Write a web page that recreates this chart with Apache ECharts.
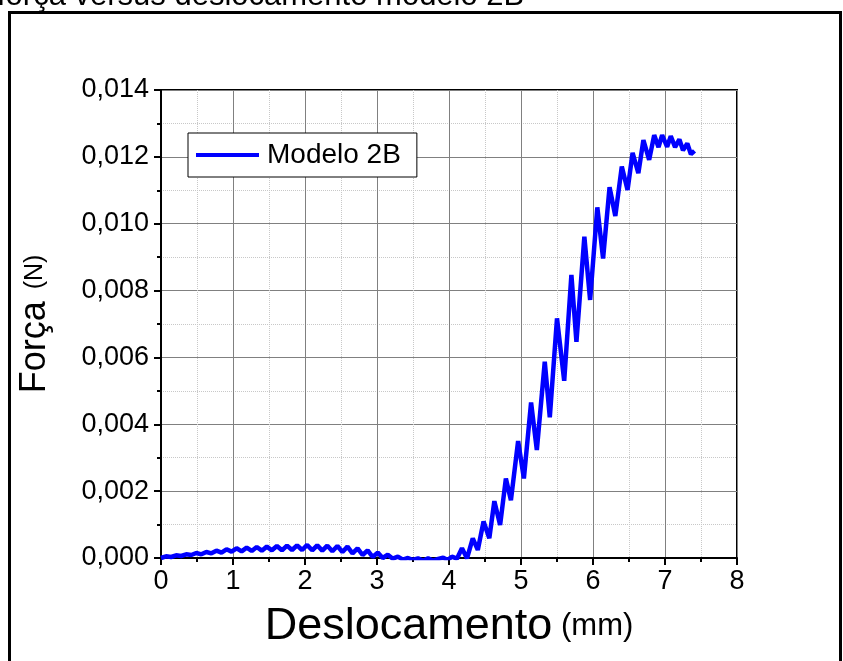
<!DOCTYPE html>
<html>
<head>
<meta charset="utf-8">
<title>força versus deslocamento modelo 2B</title>
<script src="https://cdn.jsdelivr.net/npm/echarts@6/dist/echarts.min.js"></script>
<style>
  html, body { margin: 0; padding: 0; background: #fff; }
  #chart { width: 843px; height: 661px; }
</style>
</head>
<body>
<div id="chart"></div>
<script>
// deslocamento (mm)
const dispX = [
  0.00, 0.07, 0.14, 0.21, 0.28, 0.35, 0.42, 0.49, 0.56, 0.63, 0.70, 0.77, 0.84, 0.91, 0.98,
  1.05, 1.12, 1.19, 1.26, 1.33, 1.40, 1.47, 1.54, 1.61, 1.68, 1.75, 1.82, 1.89, 1.96,
  2.03, 2.10, 2.17, 2.24, 2.31, 2.38, 2.45, 2.52, 2.59, 2.66, 2.73, 2.80, 2.87, 2.94,
  3.01, 3.08, 3.15, 3.22, 3.29, 3.36, 3.43, 3.50, 3.57, 3.64, 3.71, 3.78, 3.85, 3.92, 3.98,
  4.04, 4.11, 4.18, 4.25, 4.33, 4.40, 4.48, 4.56, 4.63, 4.71, 4.79, 4.86, 4.96,
  5.04, 5.14, 5.22, 5.33, 5.40, 5.50, 5.60, 5.70, 5.77, 5.88, 5.96,
  6.06, 6.14, 6.23, 6.31, 6.40, 6.48, 6.55, 6.63, 6.70, 6.78, 6.85, 6.91, 6.96,
  7.03, 7.08, 7.14, 7.20, 7.25, 7.31, 7.36, 7.41
];
// força (N)
const forceY = [
  0.00000, 0.00005, 0.00003, 0.00008, 0.00006, 0.00011, 0.00009, 0.00015, 0.00011, 0.00018, 0.00014, 0.00022, 0.00016, 0.00026, 0.00019,
  0.00029, 0.00020, 0.00031, 0.00021, 0.00033, 0.00022, 0.00034, 0.00023, 0.00036, 0.00023, 0.00037, 0.00024, 0.00038, 0.00024,
  0.00039, 0.00023, 0.00038, 0.00022, 0.00037, 0.00020, 0.00036, 0.00018, 0.00034, 0.00014, 0.00029, 0.00009, 0.00023, 0.00003,
  0.00016, 0.00000, 0.00010, -0.00002, 0.00004, -0.00005, 0.00000, -0.00006, -0.00001, -0.00008, -0.00001, -0.00008, -0.00003, 0.00001, -0.00006,
  0.00004, -0.00002, 0.00029, -0.00001, 0.00059, 0.00024, 0.00109, 0.00059, 0.00170, 0.00099, 0.00238, 0.00173, 0.00350,
  0.00238, 0.00465, 0.00323, 0.00587, 0.00421, 0.00717, 0.00530, 0.00847, 0.00647, 0.00961, 0.00772,
  0.01049, 0.00896, 0.01109, 0.01023, 0.01171, 0.01101, 0.01212, 0.01151, 0.01250, 0.01191, 0.01265, 0.01229, 0.01265,
  0.01230, 0.01262, 0.01229, 0.01252, 0.01220, 0.01240, 0.01208, 0.01218
];
const seriesName = 'Modelo 2B';
const chartTitle = 'força versus deslocamento modelo 2B';

const font = "'Liberation Sans', Arial, sans-serif";
const chart = echarts.init(document.getElementById('chart'));

chart.setOption({
  backgroundColor: '#fff',
  animation: false,
  textStyle: { fontFamily: font },
  graphic: [
    {
      type: 'text',
      left: -3,
      top: -19,
      style: { text: chartTitle, font: '31px ' + font, fill: '#000' }
    },
    {
      type: 'rect',
      shape: { x: 9.5, y: 12.5, width: 831, height: 660 },
      style: { fill: 'none', stroke: '#000', lineWidth: 3 },
      silent: true
    }
  ],
  legend: {
    data: [seriesName],
    left: 188,
    top: 133,
    orient: 'vertical',
    backgroundColor: '#fff',
    borderColor: '#000',
    borderWidth: 1,
    borderRadius: 0,
    padding: [8, 16, 8, 8],
    icon: 'rect',
    itemWidth: 63,
    itemHeight: 4,
    itemStyle: { color: '#0000ff' },
    textStyle: { fontSize: 28, color: '#000', fontFamily: font, padding: [0, 0, 0, 3] }
  },
  grid: {
    left: 161,
    right: 106,
    top: 90,
    bottom: 103,
    show: true,
    borderColor: '#000',
    borderWidth: 2
  },
  xAxis: {
    type: 'value',
    min: 0,
    max: 8,
    interval: 1,
    name: '{big|Deslocamento}{small| (mm)}',
    nameLocation: 'middle',
    nameGap: 46,
    nameTextStyle: {
      rich: {
        big: { fontSize: 45, color: '#000', fontFamily: font },
        small: { fontSize: 31, color: '#000', fontFamily: font, padding: [0, 0, 0, 0] }
      }
    },
    axisLine: { onZero: false, lineStyle: { color: '#000', width: 2 } },
    axisTick: { length: 7, lineStyle: { color: '#000', width: 2 } },
    minorTick: { show: true, splitNumber: 2, length: 4, lineStyle: { color: '#000', width: 2 } },
    axisLabel: { fontSize: 27, color: '#000', margin: 10 },
    splitLine: { lineStyle: { color: '#808080', width: 1 } },
    minorSplitLine: { show: true, lineStyle: { color: '#c8c8c8', width: 1, type: 'dotted' } }
  },
  yAxis: {
    type: 'value',
    min: 0,
    max: 0.014,
    interval: 0.002,
    name: '{big|Força}{small|(N)}',
    nameLocation: 'middle',
    nameGap: 108,
    nameTextStyle: {
      rich: {
        big: { fontSize: 36, color: '#000', fontFamily: font, padding: [0, 12, 0, 0] },
        small: { fontSize: 25, color: '#000', fontFamily: font }
      }
    },
    axisLine: { show: true, onZero: false, lineStyle: { color: '#000', width: 2 } },
    axisTick: { show: true, length: 7, lineStyle: { color: '#000', width: 2 } },
    minorTick: { show: true, splitNumber: 2, length: 4, lineStyle: { color: '#000', width: 2 } },
    axisLabel: {
      fontSize: 27,
      color: '#000',
      margin: 12,
      formatter: v => v.toFixed(3).replace('.', ',')
    },
    splitLine: { lineStyle: { color: '#808080', width: 1 } },
    minorSplitLine: { show: true, lineStyle: { color: '#c8c8c8', width: 1, type: 'dotted' } }
  },
  series: [
    {
      name: seriesName,
      type: 'line',
      symbol: 'none',
      clip: true,
      lineStyle: { color: '#0000ff', width: 4.5 },
      itemStyle: { color: '#0000ff' },
      data: dispX.map((x, i) => [x, forceY[i]])
    }
  ]
});
</script>
</body>
</html>
